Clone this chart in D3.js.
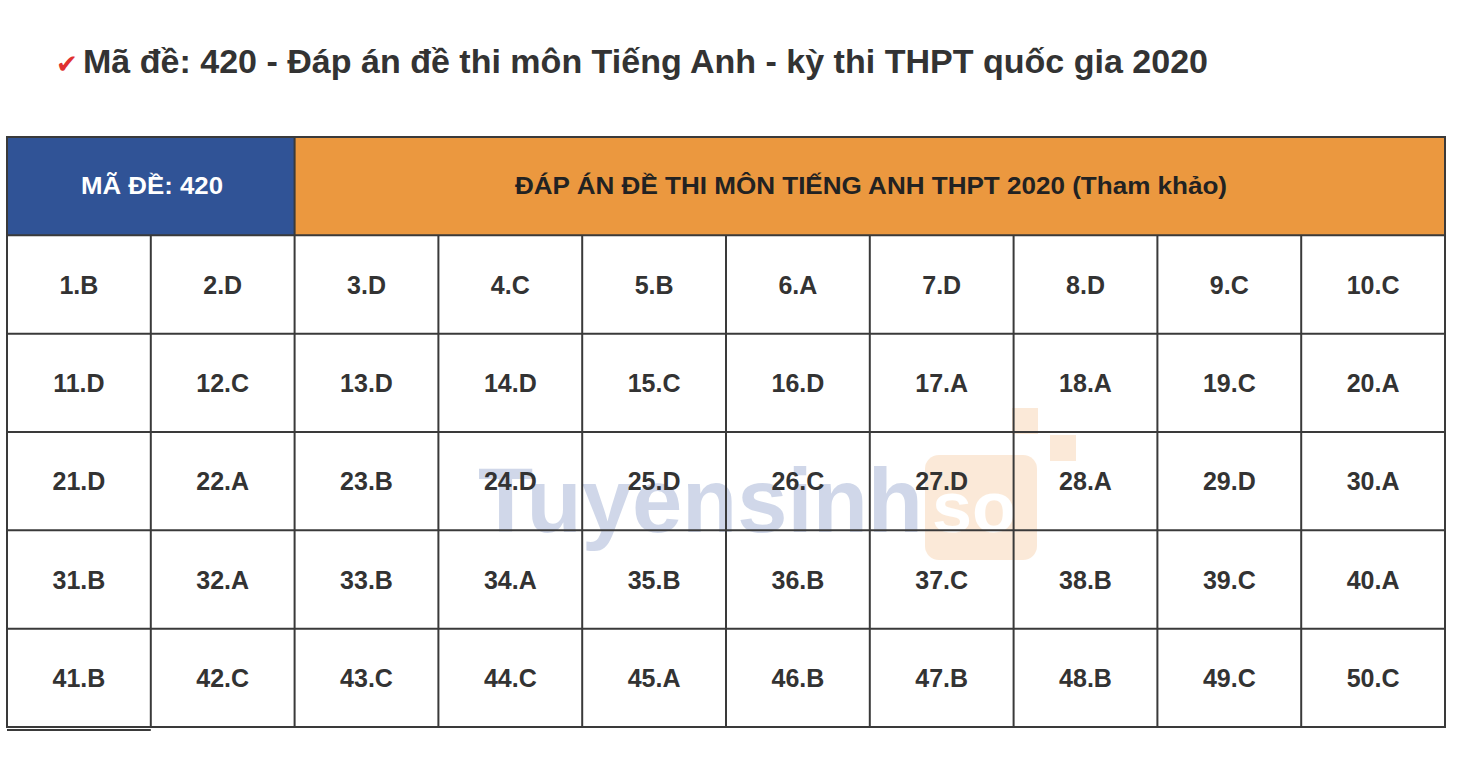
<!DOCTYPE html>
<html><head><meta charset="utf-8">
<script src="https://cdn.jsdelivr.net/npm/d3@7"></script>
<style>body{margin:0;background:#fff}</style></head>
<body><svg id="c" width="1478" height="780"></svg>
<script>
const title = "Mã đề: 420 - Đáp án đề thi môn Tiếng Anh - kỳ thi THPT quốc gia 2020";
const headerLeft = "MÃ ĐỀ: 420";
const headerRight = "ĐÁP ÁN ĐỀ THI MÔN TIẾNG ANH THPT 2020 (Tham khảo)";
const watermark = ["Tuyensinh","so"];
const answers = ["B","D","D","C","B","A","D","D","C","C",
 "D","C","D","D","C","D","A","A","C","A",
 "D","A","B","D","D","C","D","A","D","A",
 "B","A","B","A","B","B","C","B","C","A",
 "B","C","C","C","A","B","B","B","C","C"];
const svg = d3.select("#c");
const font = "'Liberation Sans', Arial, Helvetica, sans-serif";
const x = d3.scaleLinear().domain([0,10]).range([7,1445]);
const y = d3.scaleLinear().domain([0,6]).range([137,727]);
svg.append("text").attr("x",56).attr("y",73).attr("fill","#e03030").attr("font-size",26).attr("font-family","'DejaVu Sans'").text("✔");
svg.append("text").attr("x",83).attr("y",73).attr("fill","#333").attr("font-size",33).attr("font-weight","bold").attr("font-family",font)
 .attr("textLength",1125).attr("lengthAdjust","spacingAndGlyphs").text(title);
// header
svg.append("rect").attr("x",x(0)).attr("y",y(0)).attr("width",x(2)-x(0)).attr("height",y(1)-y(0)).attr("fill","#305396");
svg.append("rect").attr("x",x(2)).attr("y",y(0)).attr("width",x(10)-x(2)).attr("height",y(1)-y(0)).attr("fill","#eb983f");
svg.append("text").attr("x",81).attr("y",(y(0)+y(1))/2+8).attr("textLength",142).attr("lengthAdjust","spacingAndGlyphs").attr("fill","#fff").attr("font-size",23).attr("font-weight","bold").attr("font-family",font).text(headerLeft);
svg.append("text").attr("x",515).attr("y",(y(0)+y(1))/2+8).attr("textLength",712).attr("lengthAdjust","spacingAndGlyphs").attr("fill","#222").attr("font-size",23).attr("font-weight","bold").attr("font-family",font).text(headerRight);
// watermark
const wm = svg.append("g").attr("opacity",0.22);
wm.append("rect").attr("x",925).attr("y",455).attr("width",112).attr("height",105).attr("rx",14).attr("fill","#f0a050");
wm.append("rect").attr("x",1012).attr("y",408).attr("width",26).attr("height",26).attr("fill","#f0a050");
wm.append("rect").attr("x",1050).attr("y",435).attr("width",26).attr("height",26).attr("fill","#f0a050");
wm.append("text").attr("x",478).attr("y",532).attr("textLength",445).attr("lengthAdjust","spacingAndGlyphs").attr("fill","#2c4f9e").attr("font-size",90).attr("font-weight","bold").attr("font-family",font).text(watermark[0]);
wm.append("text").attr("x",932).attr("y",532).attr("fill","#fff").attr("font-size",72).attr("font-weight","bold").attr("font-family",font).text(watermark[1]);
// cells
svg.append("g").selectAll("text").data(answers).join("text")
 .attr("x",(d,i)=>(x(i%10)+x(i%10+1))/2).attr("y",(d,i)=>(y(Math.floor(i/10)+1)+y(Math.floor(i/10)+2))/2+9)
 .attr("text-anchor","middle").attr("fill","#333").attr("font-size",25).attr("font-weight","bold").attr("font-family",font)
 .text((d,i)=>(i+1)+"."+d);
// grid
const g = svg.append("g").attr("stroke","#3a3a3a").attr("stroke-width",2);
g.append("rect").attr("x",x(0)).attr("y",y(0)).attr("width",x(10)-x(0)).attr("height",y(6)-y(0)).attr("fill","none");
d3.range(1,6).forEach(r=>g.append("line").attr("x1",x(0)).attr("x2",x(10)).attr("y1",y(r)).attr("y2",y(r)));
d3.range(1,10).forEach(c=>g.append("line").attr("x1",x(c)).attr("x2",x(c)).attr("y1",c===2?y(0):y(1)).attr("y2",y(6)));
g.append("line").attr("x1",x(0)).attr("x2",x(1)).attr("y1",y(6)+3).attr("y2",y(6)+3);
</script></body></html>
